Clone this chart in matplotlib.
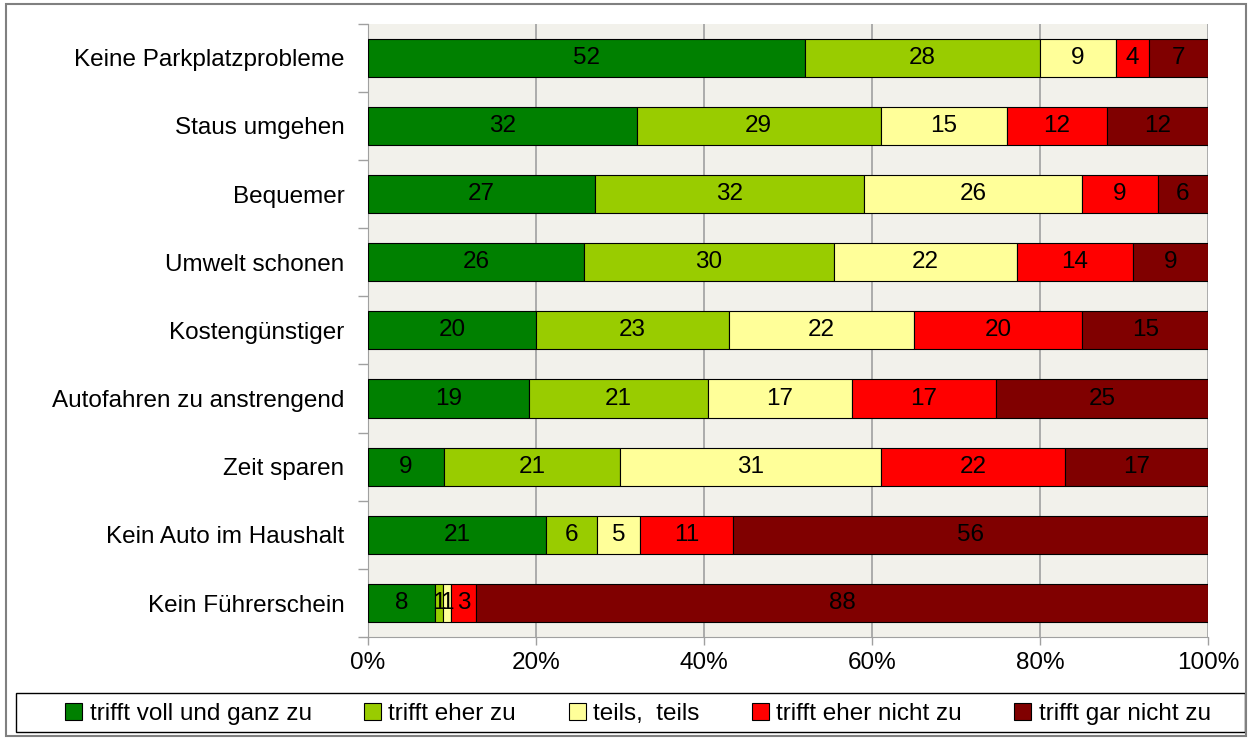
import matplotlib
matplotlib.use('Agg')
import matplotlib.pyplot as plt
from matplotlib.patches import Rectangle
import numpy as np

plt.rcParams['font.family'] = ['Liberation Sans', 'DejaVu Sans']

# Data (row order top to bottom)
categories = ['Keine Parkplatzprobleme', 'Staus umgehen', 'Bequemer', 'Umwelt schonen',
              'Kostengünstiger', 'Autofahren zu anstrengend', 'Zeit sparen',
              'Kein Auto im Haushalt', 'Kein Führerschein']
voll = [52, 32, 27, 26, 20, 19, 9, 21, 8]
eher = [28, 29, 32, 30, 23, 21, 21, 6, 1]
teils = [9, 15, 26, 22, 22, 17, 31, 5, 1]
eher_nicht = [4, 12, 9, 14, 20, 17, 22, 11, 3]
gar_nicht = [7, 12, 6, 9, 15, 25, 17, 56, 88]

series_names = ['trifft voll und ganz zu', 'trifft eher zu', 'teils,  teils',
                'trifft eher nicht zu', 'trifft gar nicht zu']
colors = ['#008000', '#99CC00', '#FFFF99', '#FF0000', '#800000']
xticks = [0, 20, 40, 60, 80, 100]

data = np.array([voll, eher, teils, eher_nicht, gar_nicht], dtype=float)
pct = data / data.sum(axis=0) * 100  # stacked to 100%

fs = 17.5
fig = plt.figure(figsize=(12.52, 7.4), dpi=100)
ax = fig.add_axes([0.294, 0.139, 0.671, 0.829])
ax.set_facecolor('#F2F1EB')

y = np.arange(len(categories))
left = np.zeros(len(categories))
for i in range(len(series_names)):
    ax.barh(y, pct[i], left=left, height=0.56, color=colors[i], edgecolor='black',
            linewidth=0.8, label=series_names[i], zorder=3)
    for j in range(len(categories)):
        ax.text(left[j] + pct[i][j] / 2, y[j], str(int(data[i][j])), ha='center', va='center',
                fontsize=fs, color='black', zorder=4)
    left += pct[i]

ax.set_xlim(0, 100)
ax.set_ylim(len(categories) - 0.5, -0.5)
ax.set_xticks(xticks)
ax.set_xticklabels([f'{t}%' for t in xticks], fontsize=fs)
ax.set_yticks(y)
ax.set_yticklabels(categories, fontsize=fs)
ax.set_yticks(np.arange(-0.5, len(categories)), minor=True)
ax.tick_params(axis='y', which='major', length=0, pad=17)
ax.tick_params(axis='y', which='minor', length=7, color='#A0A0A0', width=1)
ax.tick_params(axis='x', length=6, color='#A0A0A0', width=1, pad=5)
ax.grid(axis='x', color='#A0A0A0', linewidth=1.2, zorder=0)
for s in ['top', 'right']:
    ax.spines[s].set_visible(False)
ax.spines['left'].set_color('#A0A0A0')
ax.spines['bottom'].set_color('#A0A0A0')

# legend entries spread across the box, box drawn separately
leg = fig.legend(loc='lower left', bbox_to_anchor=(58 / 1252, 8 / 740, 1160 / 1252, 39 / 740),
                 mode='expand', ncol=5, fontsize=fs, frameon=False,
                 handlelength=0.7, handleheight=0.7, handletextpad=0.3,
                 borderpad=0.3, borderaxespad=0)
fig.patches.append(Rectangle((16 / 1252, 8 / 740), 1229 / 1252, 39 / 740,
                             transform=fig.transFigure, fill=False, edgecolor='black',
                             linewidth=1))

# outer border of the chart
fig.patches.append(Rectangle((0.005, 0.005), 0.99, 0.99, transform=fig.transFigure,
                             fill=False, edgecolor='#808080', linewidth=1.5))

fig.savefig('out.png', dpi=100)
